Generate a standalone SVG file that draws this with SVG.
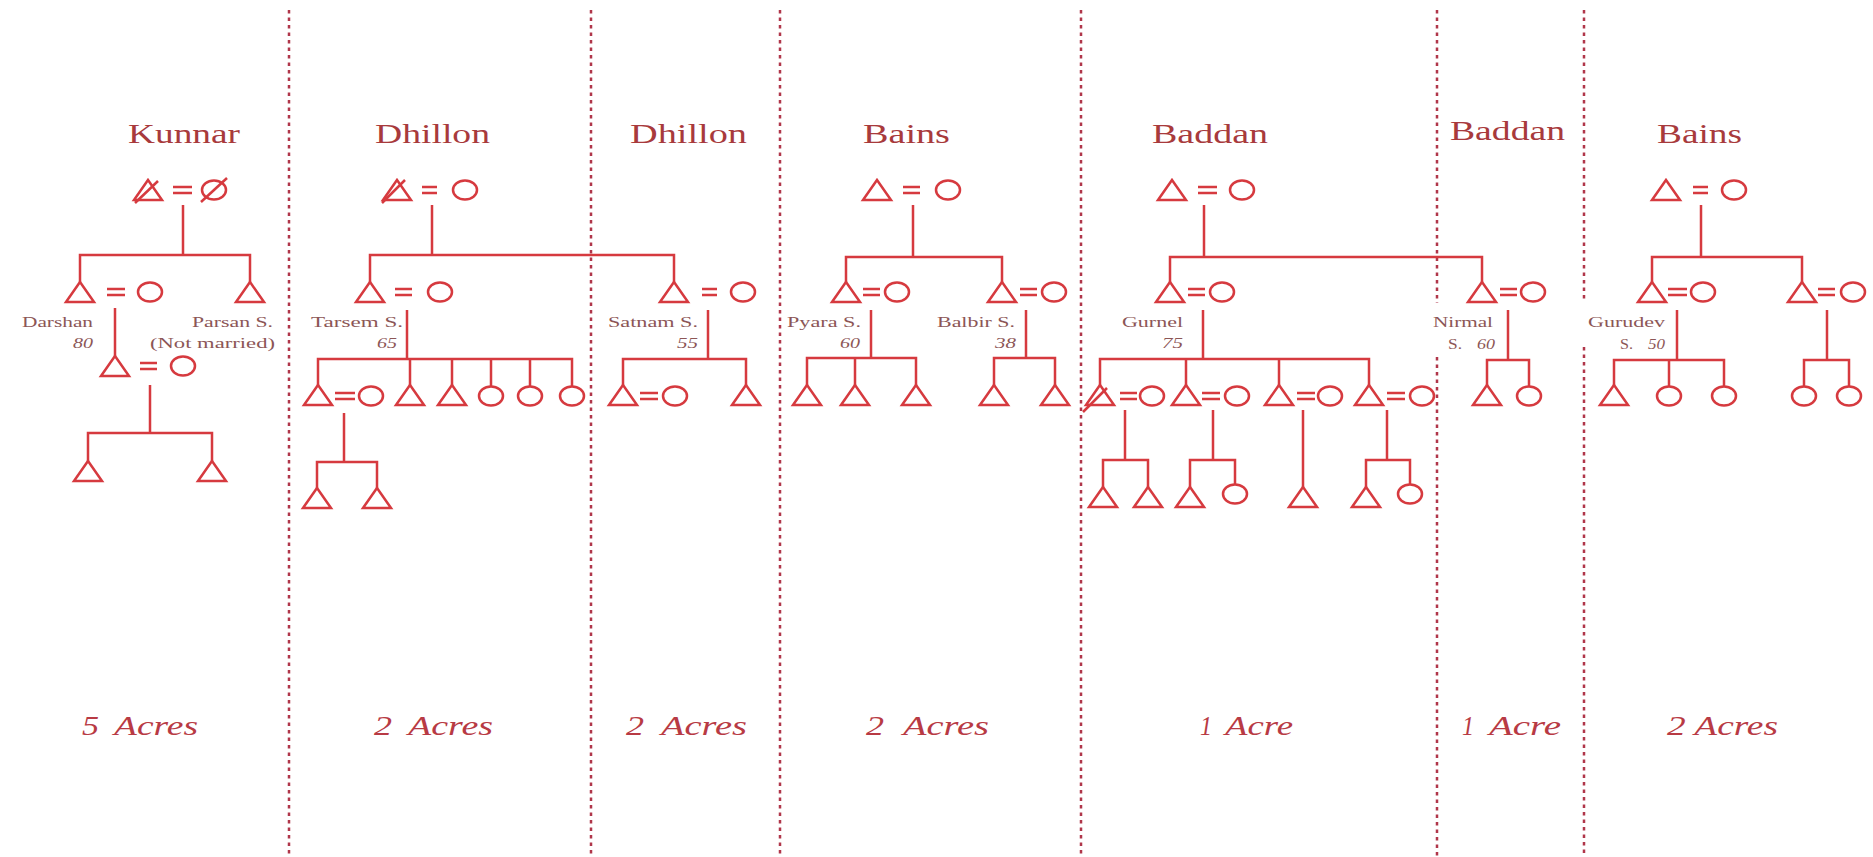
<svg xmlns="http://www.w3.org/2000/svg" width="1873" height="857" viewBox="0 0 1873 857">
<style>
.ln{stroke:#d63a3f;stroke-width:2.5;fill:none}
.sym{stroke:#d63a3f;stroke-width:2.5;fill:#fff}
.dv{stroke:#b0364a;stroke-width:2.5;stroke-dasharray:3.5 4;fill:none}
.title{font-family:"Liberation Serif",serif;font-size:27px;fill:#a83a3c}
.name{font-family:"Liberation Serif",serif;font-size:15px;fill:#8c5656}
.age{font-family:"Liberation Serif",serif;font-size:15px;font-style:italic;fill:#8c5656}
.acre{font-family:"Liberation Serif",serif;font-size:28px;font-style:italic;fill:#b83a44}
</style>
<defs>
<path id="tri" class="sym" d="M0,0 L14,20 L-14,20 Z"/>
<ellipse id="cir" class="sym" cx="0" cy="0" rx="12" ry="9.5"/>
</defs>
<rect width="1873" height="857" fill="#fff"/>

<g id="dividers">
<path class="dv" d="M289,10 V857 M591,10 V857 M780,10 V857 M1081,10 V857 M1437,10 V303 M1437,357 V857 M1584,10 V302 M1584,347 V857"/>
</g>

<g id="titles">
<text class="title" x="128" y="143" textLength="112" lengthAdjust="spacingAndGlyphs">Kunnar</text>
<text class="title" x="375" y="143" textLength="115" lengthAdjust="spacingAndGlyphs">Dhillon</text>
<text class="title" x="630" y="143" textLength="117" lengthAdjust="spacingAndGlyphs">Dhillon</text>
<text class="title" x="863" y="143" textLength="87" lengthAdjust="spacingAndGlyphs">Bains</text>
<text class="title" x="1152" y="143" textLength="116" lengthAdjust="spacingAndGlyphs">Baddan</text>
<text class="title" x="1450" y="140" textLength="115" lengthAdjust="spacingAndGlyphs">Baddan</text>
<text class="title" x="1657" y="143" textLength="85" lengthAdjust="spacingAndGlyphs">Bains</text>
</g>

<g id="connectors">
<path class="ln" d="M173,187 H192 M173,193 H192 M183,205 V255 M80,282 V255 H250 V282 M107,289 H125 M107,295 H125 M115,308 V356 M140,363 H157 M140,369 H157 M150,385 V433 M88,461 V433 H212 V461"/>
<path class="ln" d="M422,187 H437 M422,193 H437 M432,205 V255 M370,282 V255 H674 V282 M395,289 H412 M395,295 H412 M702,289 H717 M702,295 H717 M407,310 V359 M318,385 V359 H572 V386.5 M410,359 V385 M452,359 V385 M491,359 V386.5 M530,359 V386.5 M335,393 H355 M335,399 H355 M344,413 V462 M317,488 V462 H377 V488 M708,310 V359 M623,385 V359 H746 V385 M640,393 H658 M640,399 H658"/>
<path class="ln" d="M903,187 H920 M903,193 H920 M913,205 V257 M846,282 V257 H1002 V282 M863,289 H880 M863,295 H880 M1020,289 H1037 M1020,295 H1037 M871,310 V358 M807,385 V358 H916 V385 M855,358 V385 M1026,310 V358 M994,385 V358 H1055 V385"/>
<path class="ln" d="M1198,187 H1217 M1198,193 H1217 M1204,205 V257 M1170,282 V257 H1482 V282 M1188,289 H1205 M1188,295 H1205 M1500,289 H1517 M1500,295 H1517 M1203,310 V359 M1100,385 V359 H1369 V385 M1186,359 V385 M1279,359 V385 M1120,393 H1137 M1120,399 H1137 M1202,393 H1220 M1202,399 H1220 M1297,393 H1315 M1297,399 H1315 M1387,393 H1405 M1387,399 H1405 M1125,410 V460 M1103,487 V460 H1148 V487 M1213,410 V460 M1190,487 V460 H1235 V484.5 M1303,410 V487 M1387,410 V460 M1366,487 V460 H1410 V484.5 M1508,310 V360 M1487,385 V360 H1529 V386.5"/>
<path class="ln" d="M1693,187 H1708 M1693,193 H1708 M1701,205 V257 M1652,282 V257 H1802 V282 M1668,289 H1687 M1668,295 H1687 M1818,289 H1835 M1818,295 H1835 M1677,310 V360 M1614,385 V360 H1724 V386.5 M1669,360 V386.5 M1827,310 V360 M1804,386.5 V360 H1849 V386.5"/>
</g>

<g id="k1"><use href="#tri" x="148" y="180"/><path class="ln" d="M135,203 L158,181"/></g>
<g id="k2"><use href="#cir" x="214" y="190"/><path class="ln" d="M201,202 L227,178"/></g>
<g id="k3"><use href="#tri" x="80" y="282"/><text class="name" x="22" y="327" textLength="71" lengthAdjust="spacingAndGlyphs">Darshan</text><text class="age" x="73" y="348" textLength="20" lengthAdjust="spacingAndGlyphs">80</text></g>
<g id="k4"><use href="#cir" x="150" y="292"/></g>
<g id="k5"><use href="#tri" x="250" y="282"/><text class="name" x="192" y="327" textLength="81" lengthAdjust="spacingAndGlyphs">Parsan S.</text><text class="name" x="150" y="348" textLength="125" lengthAdjust="spacingAndGlyphs">(Not married)</text></g>
<g id="k6"><use href="#tri" x="115" y="356"/></g>
<g id="k7"><use href="#cir" x="183" y="366"/></g>
<g id="k8"><use href="#tri" x="88" y="461"/></g>
<g id="k9"><use href="#tri" x="212" y="461"/></g>

<g id="d1"><use href="#tri" x="397" y="180"/><path class="ln" d="M382,203 L405,180"/></g>
<g id="d2"><use href="#cir" x="465" y="190"/></g>
<g id="d3"><use href="#tri" x="370" y="282"/><text class="name" x="311" y="327" textLength="92" lengthAdjust="spacingAndGlyphs">Tarsem S.</text><text class="age" x="377" y="348" textLength="20" lengthAdjust="spacingAndGlyphs">65</text></g>
<g id="d4"><use href="#cir" x="440" y="292"/></g>
<g id="d5"><use href="#tri" x="674" y="282"/><text class="name" x="608" y="327" textLength="90" lengthAdjust="spacingAndGlyphs">Satnam S.</text><text class="age" x="677" y="348" textLength="21" lengthAdjust="spacingAndGlyphs">55</text></g>
<g id="d6"><use href="#cir" x="743" y="292"/></g>
<g id="d7"><use href="#tri" x="318" y="385"/></g>
<g id="d8"><use href="#cir" x="371" y="396"/></g>
<g id="d9"><use href="#tri" x="410" y="385"/></g>
<g id="d10"><use href="#tri" x="452" y="385"/></g>
<g id="d11"><use href="#cir" x="491" y="396"/></g>
<g id="d12"><use href="#cir" x="530" y="396"/></g>
<g id="d13"><use href="#cir" x="572" y="396"/></g>
<g id="d14"><use href="#tri" x="317" y="488"/></g>
<g id="d15"><use href="#tri" x="377" y="488"/></g>
<g id="d16"><use href="#tri" x="623" y="385"/></g>
<g id="d17"><use href="#cir" x="675" y="396"/></g>
<g id="d18"><use href="#tri" x="746" y="385"/></g>

<g id="b1"><use href="#tri" x="877" y="180"/></g>
<g id="b2"><use href="#cir" x="948" y="190"/></g>
<g id="b3"><use href="#tri" x="846" y="282"/><text class="name" x="787" y="327" textLength="74" lengthAdjust="spacingAndGlyphs">Pyara S.</text><text class="age" x="840" y="348" textLength="20" lengthAdjust="spacingAndGlyphs">60</text></g>
<g id="b4"><use href="#cir" x="897" y="292"/></g>
<g id="b5"><use href="#tri" x="1002" y="282"/><text class="name" x="937" y="327" textLength="78" lengthAdjust="spacingAndGlyphs">Balbir S.</text><text class="age" x="995" y="348" textLength="21" lengthAdjust="spacingAndGlyphs">38</text></g>
<g id="b6"><use href="#cir" x="1054" y="292"/></g>
<g id="b7"><use href="#tri" x="807" y="385"/></g>
<g id="b8"><use href="#tri" x="855" y="385"/></g>
<g id="b9"><use href="#tri" x="916" y="385"/></g>
<g id="b10"><use href="#tri" x="994" y="385"/></g>
<g id="b11"><use href="#tri" x="1055" y="385"/></g>

<g id="g1"><use href="#tri" x="1172" y="180"/></g>
<g id="g2"><use href="#cir" x="1242" y="190"/></g>
<g id="g3"><use href="#tri" x="1170" y="282"/><text class="name" x="1122" y="327" textLength="61" lengthAdjust="spacingAndGlyphs">Gurnel</text><text class="age" x="1162" y="348" textLength="21" lengthAdjust="spacingAndGlyphs">75</text></g>
<g id="g4"><use href="#cir" x="1222" y="292"/></g>
<g id="g5"><use href="#tri" x="1482" y="282"/><text class="name" x="1433" y="327" textLength="60" lengthAdjust="spacingAndGlyphs">Nirmal</text><text class="name" x="1448" y="349" textLength="14" lengthAdjust="spacingAndGlyphs">S.</text><text class="age" x="1477" y="349" textLength="18" lengthAdjust="spacingAndGlyphs">60</text></g>
<g id="g6"><use href="#cir" x="1533" y="292"/></g>
<g id="g7"><use href="#tri" x="1100" y="385"/><path class="ln" d="M1083,412 L1107,388"/></g>
<g id="g8"><use href="#cir" x="1152" y="396"/></g>
<g id="g9"><use href="#tri" x="1186" y="385"/></g>
<g id="g10"><use href="#cir" x="1237" y="396"/></g>
<g id="g11"><use href="#tri" x="1279" y="385"/></g>
<g id="g12"><use href="#cir" x="1330" y="396"/></g>
<g id="g13"><use href="#tri" x="1369" y="385"/></g>
<g id="g14"><use href="#cir" x="1422" y="396"/></g>
<g id="g15"><use href="#tri" x="1103" y="487"/></g>
<g id="g16"><use href="#tri" x="1148" y="487"/></g>
<g id="g17"><use href="#tri" x="1190" y="487"/></g>
<g id="g18"><use href="#cir" x="1235" y="494"/></g>
<g id="g19"><use href="#tri" x="1303" y="487"/></g>
<g id="g20"><use href="#tri" x="1366" y="487"/></g>
<g id="g21"><use href="#cir" x="1410" y="494"/></g>
<g id="g22"><use href="#tri" x="1487" y="385"/></g>
<g id="g23"><use href="#cir" x="1529" y="396"/></g>

<g id="s1"><use href="#tri" x="1666" y="180"/></g>
<g id="s2"><use href="#cir" x="1734" y="190"/></g>
<g id="s3"><use href="#tri" x="1652" y="282"/><text class="name" x="1588" y="327" textLength="77" lengthAdjust="spacingAndGlyphs">Gurudev</text><text class="name" x="1620" y="349" textLength="13" lengthAdjust="spacingAndGlyphs">S.</text><text class="age" x="1648" y="349" textLength="17" lengthAdjust="spacingAndGlyphs">50</text></g>
<g id="s4"><use href="#cir" x="1703" y="292"/></g>
<g id="s5"><use href="#tri" x="1802" y="282"/></g>
<g id="s6"><use href="#cir" x="1853" y="292"/></g>
<g id="s7"><use href="#tri" x="1614" y="385"/></g>
<g id="s8"><use href="#cir" x="1669" y="396"/></g>
<g id="s9"><use href="#cir" x="1724" y="396"/></g>
<g id="s10"><use href="#cir" x="1804" y="396"/></g>
<g id="s11"><use href="#cir" x="1849" y="396"/></g>

<g id="acres">
<text class="acre" x="82" y="735" textLength="17" lengthAdjust="spacingAndGlyphs">5</text>
<text class="acre" x="114" y="735" textLength="84" lengthAdjust="spacingAndGlyphs">Acres</text>
<text class="acre" x="374" y="735" textLength="18" lengthAdjust="spacingAndGlyphs">2</text>
<text class="acre" x="408" y="735" textLength="85" lengthAdjust="spacingAndGlyphs">Acres</text>
<text class="acre" x="626" y="735" textLength="18" lengthAdjust="spacingAndGlyphs">2</text>
<text class="acre" x="661" y="735" textLength="86" lengthAdjust="spacingAndGlyphs">Acres</text>
<text class="acre" x="866" y="735" textLength="18" lengthAdjust="spacingAndGlyphs">2</text>
<text class="acre" x="903" y="735" textLength="86" lengthAdjust="spacingAndGlyphs">Acres</text>
<text class="acre" x="1200" y="735" textLength="12" lengthAdjust="spacingAndGlyphs">1</text>
<text class="acre" x="1225" y="735" textLength="68" lengthAdjust="spacingAndGlyphs">Acre</text>
<text class="acre" x="1462" y="735" textLength="12" lengthAdjust="spacingAndGlyphs">1</text>
<text class="acre" x="1489" y="735" textLength="72" lengthAdjust="spacingAndGlyphs">Acre</text>
<text class="acre" x="1667" y="735" textLength="111" lengthAdjust="spacingAndGlyphs">2 Acres</text>
</g>
</svg>
